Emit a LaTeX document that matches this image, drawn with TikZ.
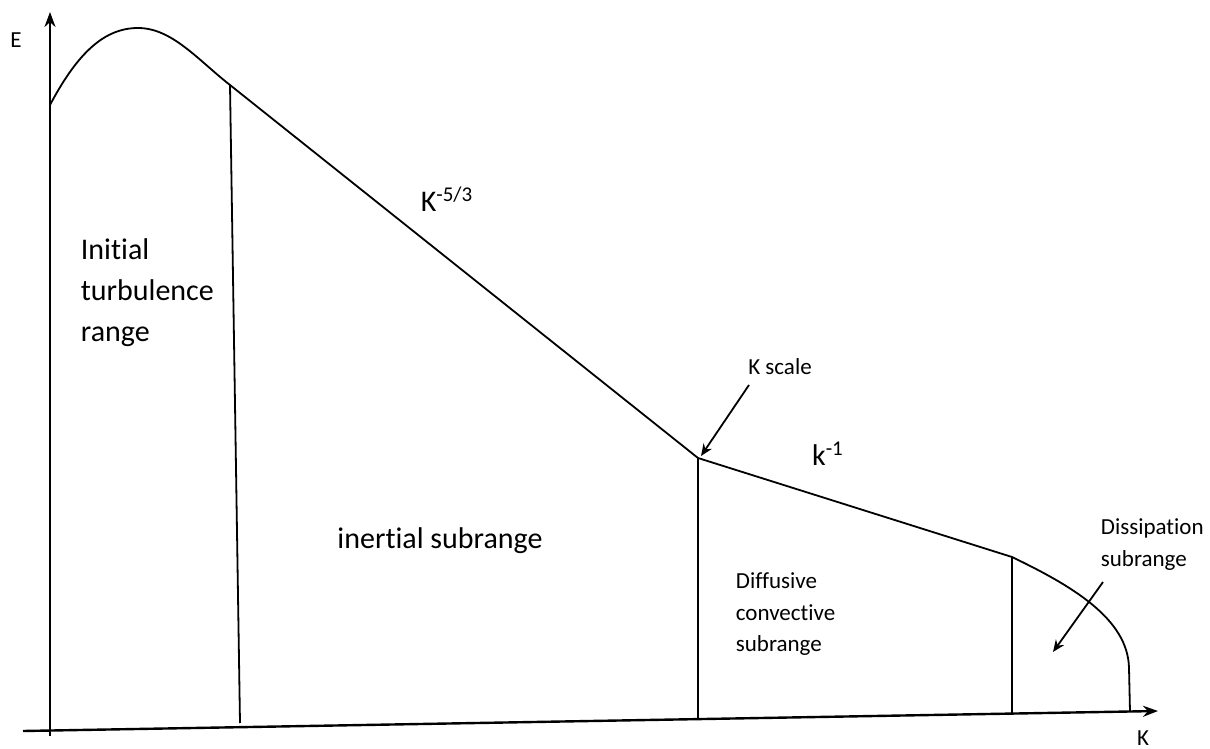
\documentclass[tikz,border=0pt]{standalone}
\usepackage{fontspec}
\setmainfont[Ligatures=NoCommon]{Carlito}
\usetikzlibrary{arrows.meta}
\begin{document}
\begin{tikzpicture}[x=0.5pt,y=-0.5pt,>={Stealth[length=6pt,width=5pt]},line width=0.9pt,
  big/.style = {font=\fontsize{15}{20.5}\selectfont, inner sep=0pt, align=left},
  small/.style = {font=\fontsize{11.5}{15.8}\selectfont, inner sep=0pt, align=left},
  axis/.style = {-{Stealth[length=7.5pt,width=5.5pt]}, line width=1.2pt},]
\useasboundingbox (0,0) rectangle (1210,749);
% axes
\coordinate (Ybot) at (50,736);
\coordinate (Ytop) at (50,12);
\coordinate (Xleft) at (23,731);
\coordinate (Xright) at (1158,711);
\draw[axis] (Ybot)--(Ytop);
\draw[axis] (Xleft)--(Xright);
\node (E) at (16,40)[small] {E};
\node (K) at (1143,738)[small] {K};

% spectrum
\coordinate (A) at (50,105);
\coordinate (P) at (138,28);
\coordinate (B) at (230,85);
\coordinate (C) at (698,458);
\coordinate (D) at (1012,557);
\coordinate (F) at (1129,668);
\coordinate (G) at (1130,712);
\draw (A) .. controls (78,52) and (105,28) .. (P)
  .. controls (172,28) and (198,60) .. (B) -- (C) -- (D)
  .. controls (1070,585) and (1128,618) .. (F) -- (G);

% range limits
\coordinate (B0) at (240,723);
\coordinate (C0) at (698,719);
\coordinate (D0) at (1012,714);
\draw (B)--(B0);
\draw (C)--(C0);
\draw (D)--(D0);

% labels
\node (init) at (80,238)[big,anchor=north west] {Initial\\turbulence\\range};
\node (inert) at (440,541)[big] {inertial subrange};
\node (slope1) at (447,199)[big] {K\textsuperscript{-5/3}};
\node (slope2) at (828,454)[big] {k\textsuperscript{-1}};
\node (diff) at (735,572)[small,anchor=north west] {Diffusive\\convective\\subrange};
\node (diss) at (1100,518)[small,anchor=north west] {Dissipation\\subrange};
\node (kscale) at (780,367)[small] {K scale};

\coordinate (kend) at (701,456);
\coordinate (dend) at (1053,652);
\draw[->] (749,385)--(kend);
\draw[->] (1103,582)--(dend);
\end{tikzpicture}
\end{document}
